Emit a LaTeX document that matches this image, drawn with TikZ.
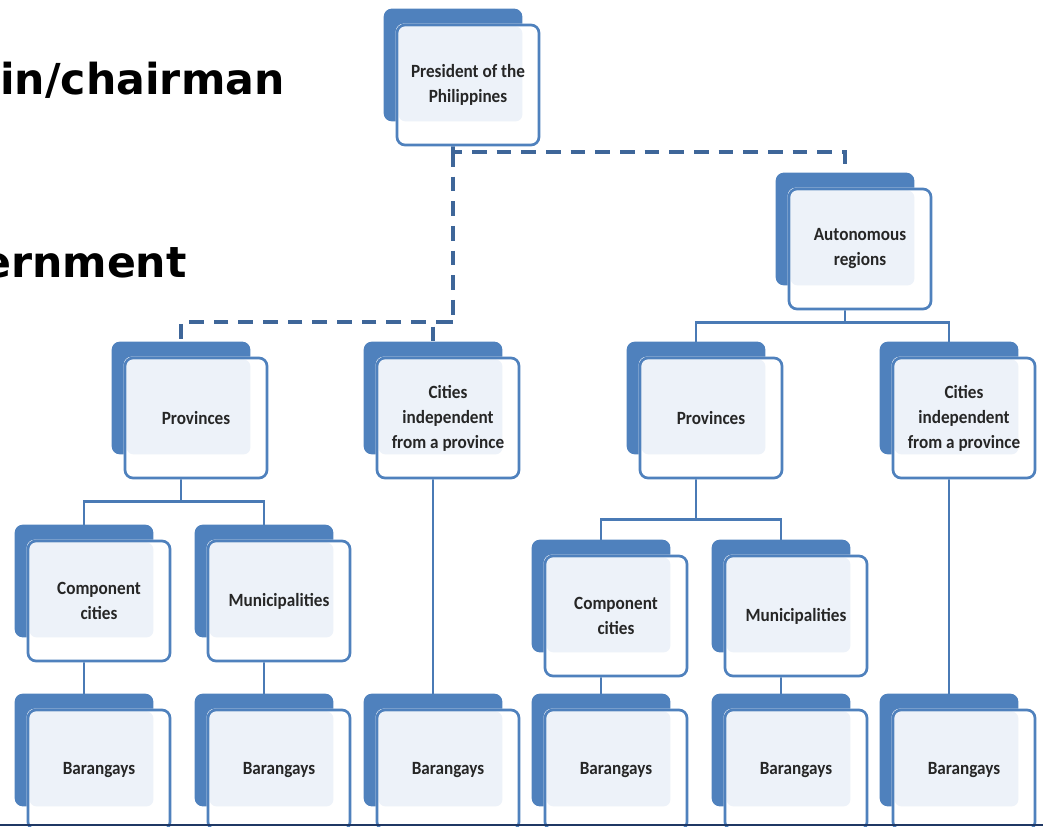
\documentclass[tikz,border=0pt]{standalone}
\usepackage{fontspec}
\usepackage{xcolor}
\usetikzlibrary{positioning,backgrounds}
\newfontfamily\boxfont[FakeStretch=0.92]{Carlito}
\newfontfamily\slidefont{DejaVu Sans}
\definecolor{orgblue}{HTML}{4F81BD}
\definecolor{lineblue}{HTML}{4A7AB5}
\definecolor{dashblue}{HTML}{3E6699}
\definecolor{paleblue}{HTML}{EDF2F9}
\definecolor{navyline}{HTML}{1F3864}
\pgfdeclarelayer{lines}
\pgfdeclarelayer{boxes}
\pgfsetlayers{lines,boxes,main}
\newcommand{\lx}{-11.25pt}
\tikzset{
  unit box/.style={draw=orgblue, line width=2pt, rounded corners=6pt,
    minimum width=106.5pt, minimum height=90pt, inner sep=0pt, align=center,
    text=black!85, font=\boxfont\bfseries\fontsize{14}{18.75}\selectfont},
  link/.style={draw=lineblue, line width=2.2pt},
  dashlink/.style={draw=dashblue, line width=3pt, dash pattern=on 11pt off 7.5pt},
  slide text/.style={anchor=base west, inner sep=0pt,
    font=\slidefont\bfseries\fontsize{32}{38}\selectfont}
}
\begin{document}
\begin{tikzpicture}[x=0.75pt,y=-0.75pt]
  \useasboundingbox (0,0) rectangle (1043,827);
  \clip (0,0) rectangle (1043,827);
  % slide title remains
  \node[slide text] (chair) at (0,95) {in/chairman};
  \node[slide text] (govt) at (-18,278) {ernment};
  % Top level
  \node[unit box] (pres) at (468,85) {President of the\\Philippines};
  \node[unit box] (auto) at (860,249) {Autonomous\\regions};
  % Provinces and independent cities
  \node[unit box] (provL) at (196,418) {Provinces};
  \node[unit box] (citL) at (448,418) {Cities\\independent\\from a province};
  \node[unit box] (provR) at (711,418) {Provinces};
  \node[unit box] (citR) at (964,418) {Cities\\independent\\from a province};
  % Component cities and municipalities
  \node[unit box] (compL) at (99,601) {Component\\cities};
  \node[unit box] (muniL) at (279,601) {Municipalities};
  \node[unit box] (compR) at (616,616) {Component\\cities};
  \node[unit box] (muniR) at (796,616) {Municipalities};
  % Barangays
  \foreach \x/\n in {99/barA,279/barB,448/barC,616/barD,796/barE,964/barF}
    \node[unit box] (\n) at (\x,770) {Barangays};
  % back plates and fills
  \begin{pgfonlayer}{boxes}
    \foreach \n in {pres,auto,provL,citL,provR,citR,compL,muniL,compR,muniR,barA,barB,barC,barD,barE,barF}{
      \fill[orgblue, rounded corners=6pt] ([shift={(-12,-15)}]\n.north west) rectangle ([shift={(-18,-25)}]\n.south east);
      \fill[white, rounded corners=6pt] (\n.north west) rectangle (\n.south east);
      \fill[paleblue, rounded corners=5pt] ([shift={(3,3)}]\n.north west) rectangle ([shift={(-18,-25)}]\n.south east);
    }
  \end{pgfonlayer}
  % connectors
  \begin{pgfonlayer}{lines}
    \coordinate (dtop) at (453,152);
    \coordinate (dmid) at (453,322);
    \draw[dashlink] ([xshift=\lx]pres.south) -- (dtop) -| ([xshift=\lx]auto.north);
    \draw[dashlink] (dtop) -- (dmid) -| ([xshift=\lx]provL.north);
    \draw[dashlink] (dmid) -| ([xshift=\lx]citL.north);
    \draw[link] ([xshift=\lx]auto.south) -- ++(0,12) coordinate (abus);
    \draw[link] ([xshift=\lx]provR.north) |- (abus) -| ([xshift=\lx]citR.north);
    \draw[link] ([xshift=\lx]provL.south) -- ++(0,22) coordinate (pbusL);
    \draw[link] ([xshift=\lx]compL.north) |- (pbusL) -| ([xshift=\lx]muniL.north);
    \draw[link] ([xshift=\lx]provR.south) -- ++(0,40) coordinate (pbusR);
    \draw[link] ([xshift=\lx]compR.north) |- (pbusR) -| ([xshift=\lx]muniR.north);
    \draw[link] ([xshift=\lx]compL.south) -- ([xshift=\lx]barA.north);
    \draw[link] ([xshift=\lx]muniL.south) -- ([xshift=\lx]barB.north);
    \draw[link] ([xshift=\lx]citL.south) -- ([xshift=\lx]barC.north);
    \draw[link] ([xshift=\lx]compR.south) -- ([xshift=\lx]barD.north);
    \draw[link] ([xshift=\lx]muniR.south) -- ([xshift=\lx]barE.north);
    \draw[link] ([xshift=\lx]citR.south) -- ([xshift=\lx]barF.north);
  \end{pgfonlayer}
  % bottom rule
  \fill[navyline] (0,823.5) rectangle (1043,826);
\end{tikzpicture}
\end{document}
